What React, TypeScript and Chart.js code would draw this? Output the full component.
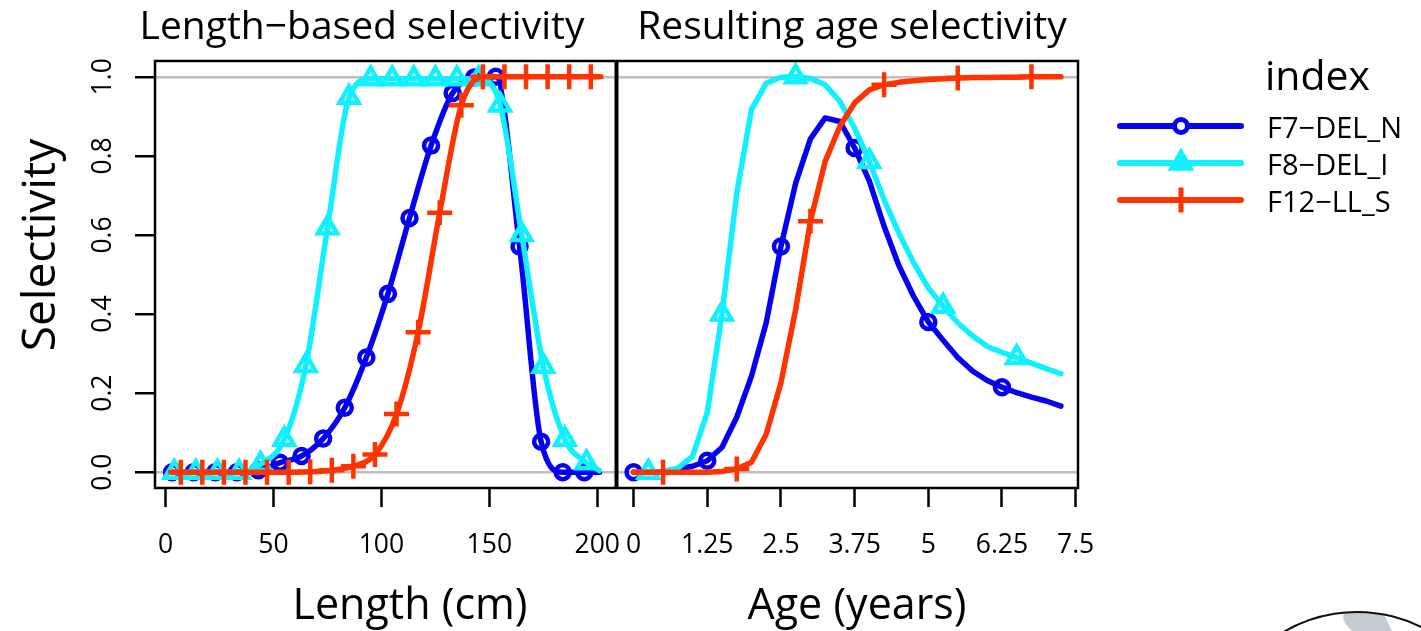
import React, { useEffect, useRef } from 'react';
import { Chart, registerables } from 'chart.js';

Chart.register(...registerables);

// ---------- data ----------
const seriesNames = ['F7\u2212DEL_N', 'F8\u2212DEL_I', 'F12\u2212LL_S'];

// Length-based selectivity (x = length in cm)
const lenBlueX = [3, 13, 23, 33, 43, 53, 63, 73, 83, 93, 103, 113, 123, 133, 143, 153, 164, 174, 184, 194, 201];
const lenBlueY = [0, 0, 0, 0, 0.005, 0.024, 0.041, 0.085, 0.163, 0.29, 0.451, 0.643, 0.826, 0.959, 0.998, 1.0, 0.571, 0.077, 0.0, 0.0, 0.0];
const lenCyanX = [4, 14, 24, 34, 44, 55, 65, 75, 85, 95, 105, 115, 125, 135, 145, 155, 165, 175, 185, 195, 201];
const lenCyanY = [0, 0, 0, 0, 0.02, 0.083, 0.27, 0.618, 0.948, 0.995, 0.995, 0.995, 0.995, 0.995, 0.995, 0.929, 0.601, 0.268, 0.083, 0.024, 0.004];
const lenRedX = [3, 7, 17, 27, 37, 47, 57, 67, 77, 87, 97, 107, 117, 127, 137, 147, 157, 167, 177, 187, 197, 201];
const lenRedY = [0, 0, 0, 0, 0, 0, 0, 0.001, 0.005, 0.015, 0.045, 0.147, 0.354, 0.656, 0.928, 1, 1, 1, 1, 1, 1, 1];

// Resulting age selectivity (x = age in years)
const ages = [0, 0.25, 0.5, 0.75, 1, 1.25, 1.5, 1.75, 2, 2.25, 2.5, 2.75, 3, 3.25, 3.5, 3.75, 4, 4.25, 4.5, 4.75, 5, 5.25, 5.5, 5.75, 6, 6.25, 6.5, 6.75, 7, 7.25];
const ageBlue = [0, 0, 0.002, 0.008, 0.015, 0.029, 0.063, 0.139, 0.243, 0.378, 0.571, 0.731, 0.843, 0.896, 0.887, 0.82, 0.736, 0.622, 0.523, 0.445, 0.38, 0.334, 0.29, 0.256, 0.232, 0.215, 0.201, 0.19, 0.18, 0.167];
const ageCyan = [0, 0, 0.001, 0.01, 0.04, 0.151, 0.4, 0.706, 0.917, 0.984, 0.999, 1.0, 0.996, 0.98, 0.938, 0.87, 0.786, 0.689, 0.605, 0.53, 0.466, 0.42, 0.378, 0.345, 0.318, 0.303, 0.29, 0.276, 0.262, 0.249];
const ageRed = [0, 0, 0, 0, 0, 0, 0.002, 0.008, 0.025, 0.096, 0.226, 0.412, 0.635, 0.786, 0.875, 0.934, 0.967, 0.98, 0.986, 0.99, 0.993, 0.995, 0.997, 0.998, 0.998, 0.999, 0.999, 1, 1, 1];

// tick labels
const lenTicks = [0, 50, 100, 150, 200];
const ageTicks = [0, 1.25, 2.5, 3.75, 5, 6.25, 7.5];
const selTicks = [0, 0.2, 0.4, 0.6, 0.8, 1.0];

// ---------- styles ----------
const BLUE = '#0600F2';
const CYAN = '#10F0FF';
const RED = '#FF3300';
const GRAY = '#BEBEBE';
const FONT = '"Open Sans", "Liberation Sans", sans-serif';
const colors = [BLUE, CYAN, RED];

const pts = (xs: number[], ys: number[]) => xs.map((x, i) => ({ x, y: ys[i] }));

// marker visibility helpers (style only)
const markRange = (from: number, to: number, r: number) => (c: any) =>
  c.dataIndex >= from && c.dataIndex <= to ? r : 0;
const markEvery = (offset: number, r: number) => (c: any) =>
  c.dataIndex % 5 === offset ? r : 0;

const styleFor = (k: number) => {
  const base: any = {
    borderColor: colors[k],
    borderWidth: 5.5,
    pointBorderColor: colors[k],
    pointBackgroundColor: 'rgba(0,0,0,0)',
    fill: false,
    borderCapStyle: 'round',
    borderJoinStyle: 'round',
    yAxisID: 'y',
  };
  if (k === 0) { base.pointStyle = 'circle'; base.pointBorderWidth = 4.5; }
  if (k === 1) { base.pointStyle = 'triangle'; base.pointBorderWidth = 4.5; }
  if (k === 2) { base.pointStyle = 'cross'; base.pointBorderWidth = 4.5; }
  return base;
};
const radiusFor = [7, 11, 12.5];

const decorPlugin = {
  id: 'decor',
  afterDatasetsDraw(chart: any) {
    const { ctx, chartArea: a, scales } = chart;
    ctx.save();
    ctx.strokeStyle = '#000';
    ctx.lineWidth = 2.5;
    ctx.strokeRect(a.left, a.top, a.right - a.left, a.bottom - a.top);
    const xd = scales.xL.right;
    ctx.lineWidth = 4;
    ctx.beginPath();
    ctx.moveTo(xd, a.top);
    ctx.lineTo(xd, a.bottom);
    ctx.stroke();
    ctx.restore();
  },
  afterDraw(chart: any) {
    const { ctx } = chart;
    ctx.save();
    ctx.fillStyle = '#000';
    ctx.textBaseline = 'alphabetic';
    // panel titles
    ctx.font = `39px ${FONT}`;
    ctx.textAlign = 'center';
    ctx.fillText('Length\u2212based selectivity', 362, 39);
    ctx.fillText('Resulting age selectivity', 852, 39);
    // axis titles
    ctx.font = `43px ${FONT}`;
    ctx.fillText('Length (cm)', 410, 619);
    ctx.fillText('Age (years)', 857, 619);
    ctx.save();
    ctx.translate(55, 245);
    ctx.rotate(-Math.PI / 2);
    ctx.font = `46px ${FONT}`;
    ctx.fillText('Selectivity', 0, 0);
    ctx.restore();

    // legend
    ctx.textAlign = 'left';
    ctx.font = `41px ${FONT}`;
    ctx.fillText('index', 1265, 90);
    const rows = [126, 163, 200];
    ctx.font = `29px ${FONT}`;
    rows.forEach((y, k) => {
      ctx.strokeStyle = colors[k];
      ctx.lineCap = 'round';
      ctx.lineWidth = 6;
      ctx.beginPath();
      ctx.moveTo(1120, y);
      ctx.lineTo(1241, y);
      ctx.stroke();
      ctx.lineCap = 'butt';
      const mx = 1181;
      if (k === 0) {
        ctx.lineWidth = 5;
        ctx.fillStyle = '#fff';
        ctx.beginPath();
        ctx.arc(mx, y, 6.5, 0, Math.PI * 2);
        ctx.fill();
        ctx.stroke();
      } else if (k === 1) {
        const r = 11;
        ctx.lineWidth = 4.5;
        ctx.lineJoin = 'miter';
        ctx.fillStyle = colors[k];
        ctx.beginPath();
        ctx.moveTo(mx, y - r);
        ctx.lineTo(mx + r * 0.866, y + r / 2);
        ctx.lineTo(mx - r * 0.866, y + r / 2);
        ctx.closePath();
        ctx.fill();
        ctx.stroke();
      } else {
        ctx.lineWidth = 5;
        ctx.beginPath();
        ctx.moveTo(mx, y - 12.5);
        ctx.lineTo(mx, y + 12.5);
        ctx.stroke();
      }
      ctx.fillStyle = '#000';
      ctx.fillText(seriesNames[k], 1267, y + 12);
    });

    // partial round logo, bottom right
    ctx.save();
    ctx.beginPath();
    ctx.arc(1357, 757, 145, 0, Math.PI * 2);
    ctx.clip();
    ctx.fillStyle = '#C4CCD2';
    ctx.beginPath();
    ctx.moveTo(1344, 612);
    ctx.bezierCurveTo(1341, 620, 1347, 626, 1352, 631);
    ctx.lineTo(1392, 631);
    ctx.lineTo(1384, 614);
    ctx.closePath();
    ctx.fill();
    ctx.restore();
    ctx.strokeStyle = '#111';
    ctx.lineWidth = 2;
    ctx.beginPath();
    ctx.arc(1357, 757, 145, Math.PI * 1.2, Math.PI * 1.8);
    ctx.stroke();
    ctx.restore();
  },
};

export default function App() {
  const ref = useRef<HTMLCanvasElement | null>(null);

  useEffect(() => {
    if (!ref.current) return;
    const tickFont = { family: FONT, size: 26.5 };
    const chart = new Chart(ref.current, {
      type: 'line',
      data: {
        datasets: [
          { ...styleFor(2), label: seriesNames[2], xAxisID: 'xL', data: pts(lenRedX, lenRedY), cubicInterpolationMode: 'monotone', pointRadius: markRange(1, 20, radiusFor[2]) },
          { ...styleFor(2), label: seriesNames[2], xAxisID: 'xR', data: pts(ages, ageRed), tension: 0, pointRadius: markEvery(2, radiusFor[2]) },
          { ...styleFor(1), label: seriesNames[1], xAxisID: 'xL', data: pts(lenCyanX, lenCyanY), cubicInterpolationMode: 'monotone', pointRadius: markRange(0, 19, radiusFor[1]) },
          { ...styleFor(1), label: seriesNames[1], xAxisID: 'xR', data: pts(ages, ageCyan), tension: 0, pointRadius: markEvery(1, radiusFor[1]) },
          { ...styleFor(0), label: seriesNames[0], xAxisID: 'xL', data: pts(lenBlueX, lenBlueY), cubicInterpolationMode: 'monotone', pointRadius: markRange(0, 19, radiusFor[0]) },
          { ...styleFor(0), label: seriesNames[0], xAxisID: 'xR', data: pts(ages, ageBlue), tension: 0, pointRadius: markEvery(0, radiusFor[0]) },
        ] as any,
      },
      options: {
        animation: false,
        responsive: false,
        events: [],
        layout: { padding: { left: 0, top: 61, right: 343, bottom: 0 } },
        plugins: {
          legend: { display: false },
          title: { display: false },
          tooltip: { enabled: false },
        },
        scales: {
          xL: {
            type: 'linear',
            position: 'bottom',
            stack: 'panels',
            stackWeight: 1,
            min: -4.92,
            max: 208.92,
            afterBuildTicks: (s: any) => { s.ticks = lenTicks.map((v) => ({ value: v })); },
            afterFit: (s: any) => { s.height = 143; },
            grid: { drawOnChartArea: false, drawTicks: true, tickLength: 19, tickColor: '#000', tickWidth: 2.5 },
            border: { display: false },
            ticks: { autoSkip: false, maxRotation: 0, minRotation: 0, padding: 23, color: '#000', font: tickFont, callback: (v: any) => String(v) },
          },
          xR: {
            type: 'linear',
            position: 'bottom',
            stack: 'panels',
            stackWeight: 1,
            min: -0.29,
            max: 7.54,
            afterBuildTicks: (s: any) => { s.ticks = ageTicks.map((v) => ({ value: v })); },
            afterFit: (s: any) => { s.height = 143; },
            grid: { drawOnChartArea: false, drawTicks: true, tickLength: 19, tickColor: '#000', tickWidth: 2.5 },
            border: { display: false },
            ticks: { autoSkip: false, maxRotation: 0, minRotation: 0, padding: 23, color: '#000', font: tickFont, callback: (v: any) => String(v) },
          },
          y: {
            type: 'linear',
            position: 'left',
            min: -0.04,
            max: 1.04,
            afterBuildTicks: (s: any) => { s.ticks = selTicks.map((v) => ({ value: v })); },
            afterFit: (s: any) => { s.width = 155; },
            grid: {
              color: (c: any) => (c.tick && (c.tick.value === 0 || c.tick.value === 1) ? GRAY : 'rgba(0,0,0,0)'),
              lineWidth: 2.5,
              drawTicks: true,
              tickLength: 20,
              tickColor: '#000',
              tickWidth: 2.5,
            },
            border: { display: false },
            ticks: { autoSkip: false, minRotation: 90, maxRotation: 90, crossAlign: 'center', padding: 13, color: '#000', font: tickFont, callback: (v: any) => Number(v).toFixed(1) },
          },
        },
      } as any,
      plugins: [decorPlugin],
    });
    return () => chart.destroy();
  }, []);

  return (
    <div style={{ position: 'fixed', left: 0, top: 0, width: 1421, height: 631, background: '#fff' }}>
      <canvas ref={ref} width={1421} height={631} style={{ display: 'block' }} />
    </div>
  );
}
